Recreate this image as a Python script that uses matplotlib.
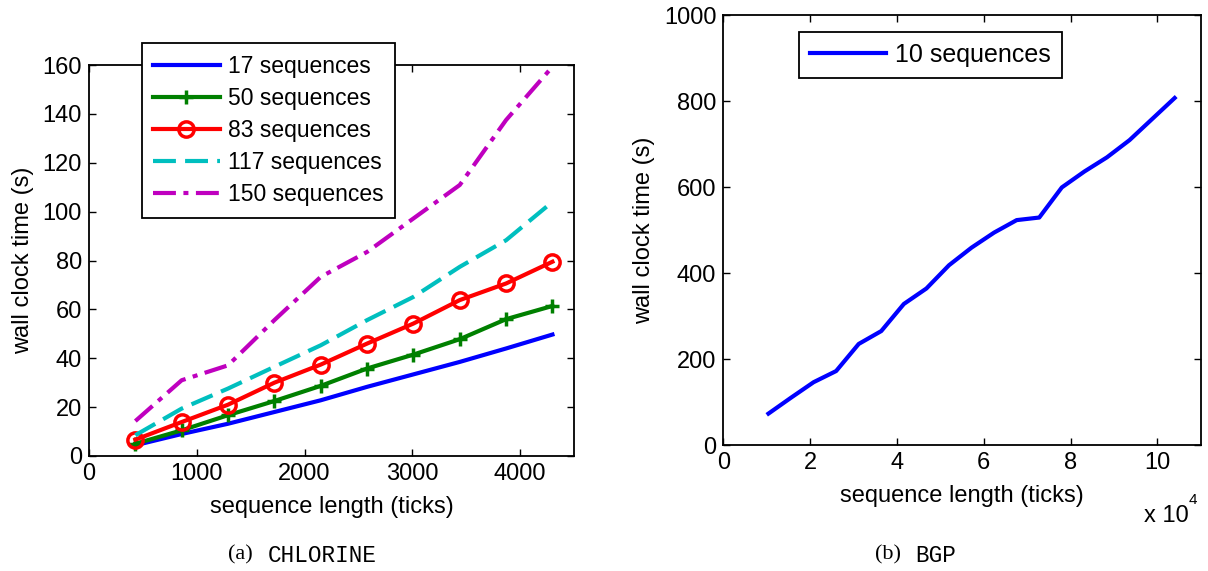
import matplotlib
matplotlib.use("Agg")
import matplotlib.pyplot as plt
from matplotlib.ticker import FuncFormatter

plt.rcParams['font.family'] = ['Liberation Sans', 'DejaVu Sans']

# ---- data: CHLORINE ----
chl_x = [430, 860, 1290, 1720, 2150, 2580, 3010, 3440, 3870, 4300]
chl_17 = [4.4, 9.0, 13.2, 18.0, 22.8, 28.3, 33.4, 38.5, 44.0, 49.7]
chl_50 = [5.0, 10.5, 16.7, 22.5, 28.7, 35.8, 41.5, 47.8, 56.0, 61.4]
chl_83 = [6.7, 13.9, 21.0, 30.0, 37.4, 46.0, 54.2, 63.8, 70.6, 79.5]
chl_117 = [8.5, 19.4, 27.6, 36.5, 45.3, 55.6, 65.1, 77.4, 88.3, 104.0]
chl_150 = [14.3, 31.0, 37.1, 55.6, 73.3, 83.5, 97.2, 110.9, 137.5, 159.3]
chl_labels = ['17 sequences', '50 sequences', '83 sequences', '117 sequences', '150 sequences']

# ---- data: BGP ----
bgp_x = [10400, 15600, 20800, 26000, 31200, 36400, 41600, 46800, 52000, 57200,
         62400, 67600, 72800, 78000, 83200, 88400, 93600, 98800, 104000]
bgp_10 = [73, 110, 146, 172, 235, 265, 328, 364, 418, 459,
          494, 523, 529, 599, 636, 669, 709, 758, 807]
bgp_label = '10 sequences'

W, H = 1208, 571
fig = plt.figure(figsize=(W / 100, H / 100), dpi=100)

def px_axes(l, t, r, b):
    return fig.add_axes([l / W, 1 - b / H, (r - l) / W, (b - t) / H])

FS = 17
LFS = 16.5

def style(ax):
    ax.tick_params(direction='in', top=True, right=True, length=5, width=1,
                   labelsize=FS, pad=5)
    for s in ax.spines.values():
        s.set_linewidth(1.3)

# ---- left panel ----
ax1 = px_axes(89, 65, 574, 456)
ax1.plot(chl_x, chl_17, color='#0000ff', lw=3, label=chl_labels[0])
ax1.plot(chl_x, chl_50, color='#008000', lw=3, marker='+', ms=10, mew=2.5,
         label=chl_labels[1])
ax1.plot(chl_x, chl_83, color='#ff0000', lw=3, marker='o', ms=11, mew=2.5,
         mfc='none', label=chl_labels[2])
ax1.plot(chl_x, chl_117, color='#00bfbf', lw=3, dashes=(5.5, 2.2),
         label=chl_labels[3])
ax1.plot(chl_x, chl_150, color='#bf00bf', lw=3, dashes=(5.5, 1.8, 1.2, 1.8),
         label=chl_labels[4])
ax1.set_xlim(0, 4500)
ax1.set_ylim(0, 160)
ax1.set_xticks([0, 1000, 2000, 3000, 4000])
ax1.set_yticks(range(0, 161, 20))
ax1.set_xlabel('sequence length (ticks)', fontsize=FS, labelpad=8)
ax1.set_ylabel('wall clock time (s)', fontsize=FS, labelpad=6)
style(ax1)
leg1 = ax1.legend(loc='upper left', bbox_to_anchor=(0.1087, 1.0555),
                  fontsize=LFS, frameon=True, fancybox=False, framealpha=1,
                  edgecolor='black', handlelength=2.9, handletextpad=0.35,
                  borderpad=0.5, labelspacing=0.4, borderaxespad=0)
leg1.get_frame().set_linewidth(1.3)
leg1.set_zorder(10)

# ---- right panel ----
ax2 = px_axes(723.3, 15, 1200.7, 445)
ax2.plot(bgp_x, bgp_10, color='#0000ff', lw=3, label=bgp_label)
ax2.set_xlim(0, 110000)
ax2.set_ylim(0, 1000)
ax2.set_xticks([0, 20000, 40000, 60000, 80000, 100000])
ax2.xaxis.set_major_formatter(FuncFormatter(lambda v, p: f'{v / 1e4:g}'))
ax2.set_yticks(range(0, 1001, 200))
ax2.set_xlabel('sequence length (ticks)', fontsize=FS, labelpad=8)
ax2.set_ylabel('wall clock time (s)', fontsize=FS, labelpad=6)
style(ax2)
leg2 = ax2.legend(loc='upper left', bbox_to_anchor=(0.158, 0.961),
                  fontsize=18, frameon=True, fancybox=False, framealpha=1,
                  edgecolor='black', handlelength=3.05, handletextpad=0.35,
                  borderpad=0.45, borderaxespad=0)
leg2.get_frame().set_linewidth(1.3)
fig.text(1144 / W, 1 - 516 / H, 'x 10', fontsize=FS, va='center', ha='left')
fig.text(1189 / W, 1 - 500 / H, '4', fontsize=11, va='center', ha='left')

# ---- captions ----
cy = 1 - 555 / H
fig.text(228 / W, cy, '(a)', family='Liberation Serif', fontsize=16, va='center')
fig.text(268 / W, cy, 'CHLORINE', family='Liberation Mono', fontsize=16.3, va='center')
fig.text(875 / W, cy, '(b)', family='Liberation Serif', fontsize=16, va='center')
fig.text(915 / W, cy, 'BGP', family='Liberation Mono', fontsize=16.3, va='center')

fig.savefig('out.png', dpi=100)
